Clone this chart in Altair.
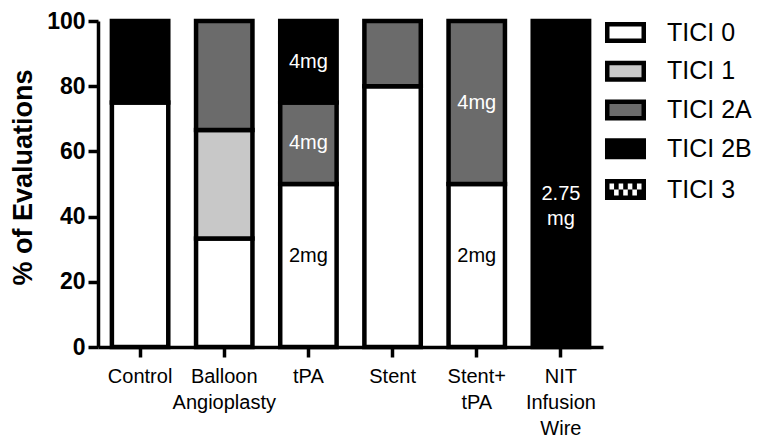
import altair as alt
import pandas as pd

# ---- data ----
groups = ["Control", "Balloon Angioplasty", "tPA", "Stent", "Stent+ tPA", "NIT Infusion Wire"]
levels = ["TICI 0", "TICI 1", "TICI 2A", "TICI 2B", "TICI 3"]
tici0 = [75, 33.3, 50, 80, 50, 0]
tici1 = [0, 33.3, 0, 0, 0, 0]
tici2a = [0, 33.4, 25, 20, 50, 0]
tici2b = [25, 0, 25, 0, 0, 100]
tici3 = [0, 0, 0, 0, 0, 0]
level_colors = ["#ffffff", "#c8c8c8", "#6b6b6b", "#000000", "#000000"]

label_groups = ["tPA", "tPA", "tPA", "Stent+ tPA", "Stent+ tPA", "NIT Infusion Wire"]
label_y = [28, 62.5, 87.5, 28, 75, 47]
label_text = ["2mg", "4mg", "4mg", "2mg", "4mg", "2.75\nmg"]
label_color = ["black", "white", "white", "black", "white", "white"]

rows = []
for lvl_i, (lvl, vals) in enumerate(zip(levels, [tici0, tici1, tici2a, tici2b, tici3])):
    for g, v in zip(groups, vals):
        if v > 0:
            rows.append({"group": g, "level": lvl, "ord": lvl_i, "value": v})
bars_df = pd.DataFrame(rows)
labels_df = pd.DataFrame({"group": label_groups, "ly": label_y,
                          "txt": label_text, "col": label_color})

FONT = "Liberation Sans"

# legend symbol paths (styling)
r = 15.0
hw, hh = 18.25 / r, 8.25 / r
rect_path = f"M{-hw:.3f},{-hh:.3f}H{hw:.3f}V{hh:.3f}H{-hw:.3f}Z"
ow, oh = 20.5 / r, 10.5 / r
border = 4.5 / r
iw, ih = ow - border, oh - border
ncols, nrows = 7, 2
cw, ch = 2 * iw / ncols, 2 * ih / nrows
p = [f"M{-ow:.3f},{-oh:.3f}H{ow:.3f}V{oh:.3f}H{-ow:.3f}Z"]
for rr in range(nrows):
    for cc in range(ncols):
        if (rr + cc) % 2 == 0:
            x0 = -iw + cc * cw
            y0 = -ih + rr * ch
            p.append(f"M{x0:.3f},{y0:.3f}V{y0 + ch:.3f}H{x0 + cw:.3f}V{y0:.3f}Z")
check_path = "".join(p)

shape_expr = f"datum.value === 'TICI 3' ? '{check_path}' : '{rect_path}'"
stroke_expr = "datum.value === 'TICI 3' ? 'transparent' : 'black'"

x_enc = alt.X("group:N", sort=groups,
              scale=alt.Scale(paddingInner=0.33, paddingOuter=0.165),
              axis=alt.Axis(title=None, labelAngle=0, labelFont=FONT, labelFontSize=20,
                            labelColor="black", labelExpr="split(datum.label, ' ')",
                            labelLineHeight=26, labelPadding=9, tickSize=10,
                            tickWidth=3.5, tickColor="black", domainColor="black",
                            domainWidth=3.5, labelBaseline="top"))

y_scale = alt.Scale(domain=[0, 100], nice=False)

bars = alt.Chart(bars_df).mark_bar(stroke="black", strokeWidth=4.5).encode(
    x=x_enc,
    y=alt.Y("value:Q", stack="zero", scale=y_scale,
            axis=alt.Axis(title="% of Evaluations", values=[0, 20, 40, 60, 80, 100],
                          labelFont=FONT, labelFontSize=23, labelFontWeight="bold",
                          labelColor="black", labelPadding=3, tickSize=10,
                          tickWidth=3.5, tickColor="black", domainColor="black",
                          domainWidth=3.5, titleFont=FONT, titleFontSize=27,
                          titleFontWeight="bold", titleColor="black",
                          titleX=-75, titleY=156, titleAngle=-90,
                          titleAlign="center", titleBaseline="middle")),
    fill=alt.Fill("level:N", scale=alt.Scale(domain=levels, range=level_colors),
                  legend=alt.Legend(title=None, orient="none", legendX=510, legendY=-6,
                                    labelFont=FONT, labelFontSize=25, labelColor="black",
                                    symbolType=alt.ExprRef(shape_expr),
                                    symbolStrokeColor=alt.ExprRef(stroke_expr),
                                    symbolSize=r * r * 4, symbolStrokeWidth=4.5,
                                    labelOffset=24, rowPadding=3.75, padding=0,
                                    symbolOpacity=1)),
    order=alt.Order("ord:Q", sort="ascending"),
)

texts = alt.Chart(labels_df).mark_text(font=FONT, fontSize=20, lineBreak="\n",
                                       lineHeight=25, align="center",
                                       baseline="middle").encode(
    x=alt.X("group:N", sort=groups),
    y=alt.Y("ly:Q", scale=y_scale, title="% of Evaluations"),
    text="txt:N",
    color=alt.Color("col:N", scale=None),
)

chart = alt.layer(bars, texts).properties(
    width=505, height=326,
    autosize=alt.AutoSizeParams(type="none"),
    padding={"left": 90, "top": 13, "right": 149, "bottom": 93},
).configure_view(stroke=None).configure_axis(grid=False)

chart.save("out.html", embed_options={"renderer": "svg", "actions": False})
